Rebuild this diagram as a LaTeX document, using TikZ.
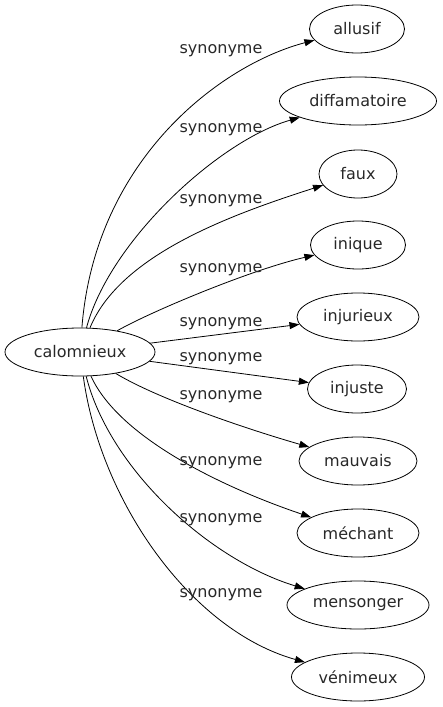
\documentclass[tikz,border=0pt]{standalone}
\usepackage{fontspec}
\setmainfont{DejaVu Sans}
\usetikzlibrary{
  arrows.meta,
  shapes.geometric
}
\definecolor{EdgeBlack}{RGB}{0,0,0}
\definecolor{TextGray}{RGB}{40,40,40}
\tikzset{
  wordnode/.style={draw=EdgeBlack,ellipse,line width=0.8pt,inner sep=0pt,minimum height=48pt,font=\fontsize{16}{19}\selectfont,text=TextGray},
  relarrow/.style={-{Triangle[length=10pt,width=7pt]},line width=0.8pt,draw=EdgeBlack},
  rellabel/.style={font=\fontsize{16}{19}\selectfont,text=TextGray,inner sep=0pt}
}
\begin{document}
\begin{tikzpicture}[x=1pt,y=-1pt]
\useasboundingbox (0,0) rectangle (442,707);
\node[wordnode, minimum width=150pt] (cal) at (80,352) {calomnieux};
\node[wordnode, minimum width=95pt] (allusif) at (357,29) {allusif};
\node[wordnode, minimum width=157pt] (diffam) at (358,101) {diffamatoire};
\node[wordnode, minimum width=78pt] (faux) at (358,174) {faux};
\node[wordnode, minimum width=95pt] (inique) at (358,245) {inique};
\node[wordnode, minimum width=122pt] (injurieux) at (358,317) {injurieux};
\node[wordnode, minimum width=99pt] (injuste) at (357,389) {injuste};
\node[wordnode, minimum width=118pt] (mauvais) at (358,461) {mauvais};
\node[wordnode, minimum width=122pt] (mechant) at (358,533) {méchant};
\node[wordnode, minimum width=142pt] (mensonger) at (358,605) {mensonger};
\node[wordnode, minimum width=133pt] (venimeux) at (358,677) {vénimeux};

% edges
\draw[relarrow] (cal) .. controls (95,160) and (220,65) .. (allusif);
\draw[relarrow] (cal) .. controls (110,240) and (220,140) .. (diffam);
\draw[relarrow] (cal) .. controls (120,255) and (230,215) .. (faux);
\draw[relarrow] (cal) .. controls (150,312) and (250,270) .. (inique);
\draw[relarrow] (cal) -- (injurieux);
\draw[relarrow] (cal) -- (injuste);
\draw[relarrow] (cal) .. controls (160,400) and (250,430) .. (mauvais);
\draw[relarrow] (cal) .. controls (120,440) and (230,490) .. (mechant);
\draw[relarrow] (cal) .. controls (110,470) and (210,560) .. (mensonger);
\draw[relarrow] (cal) .. controls (100,500) and (190,630) .. (venimeux);

% labels
\foreach \ly [count=\i] in {51,130,201,270,324,359,397,463,520,595}
  \node[rellabel] (lab\i) at (221,\ly) {synonyme};
\end{tikzpicture}
\end{document}
